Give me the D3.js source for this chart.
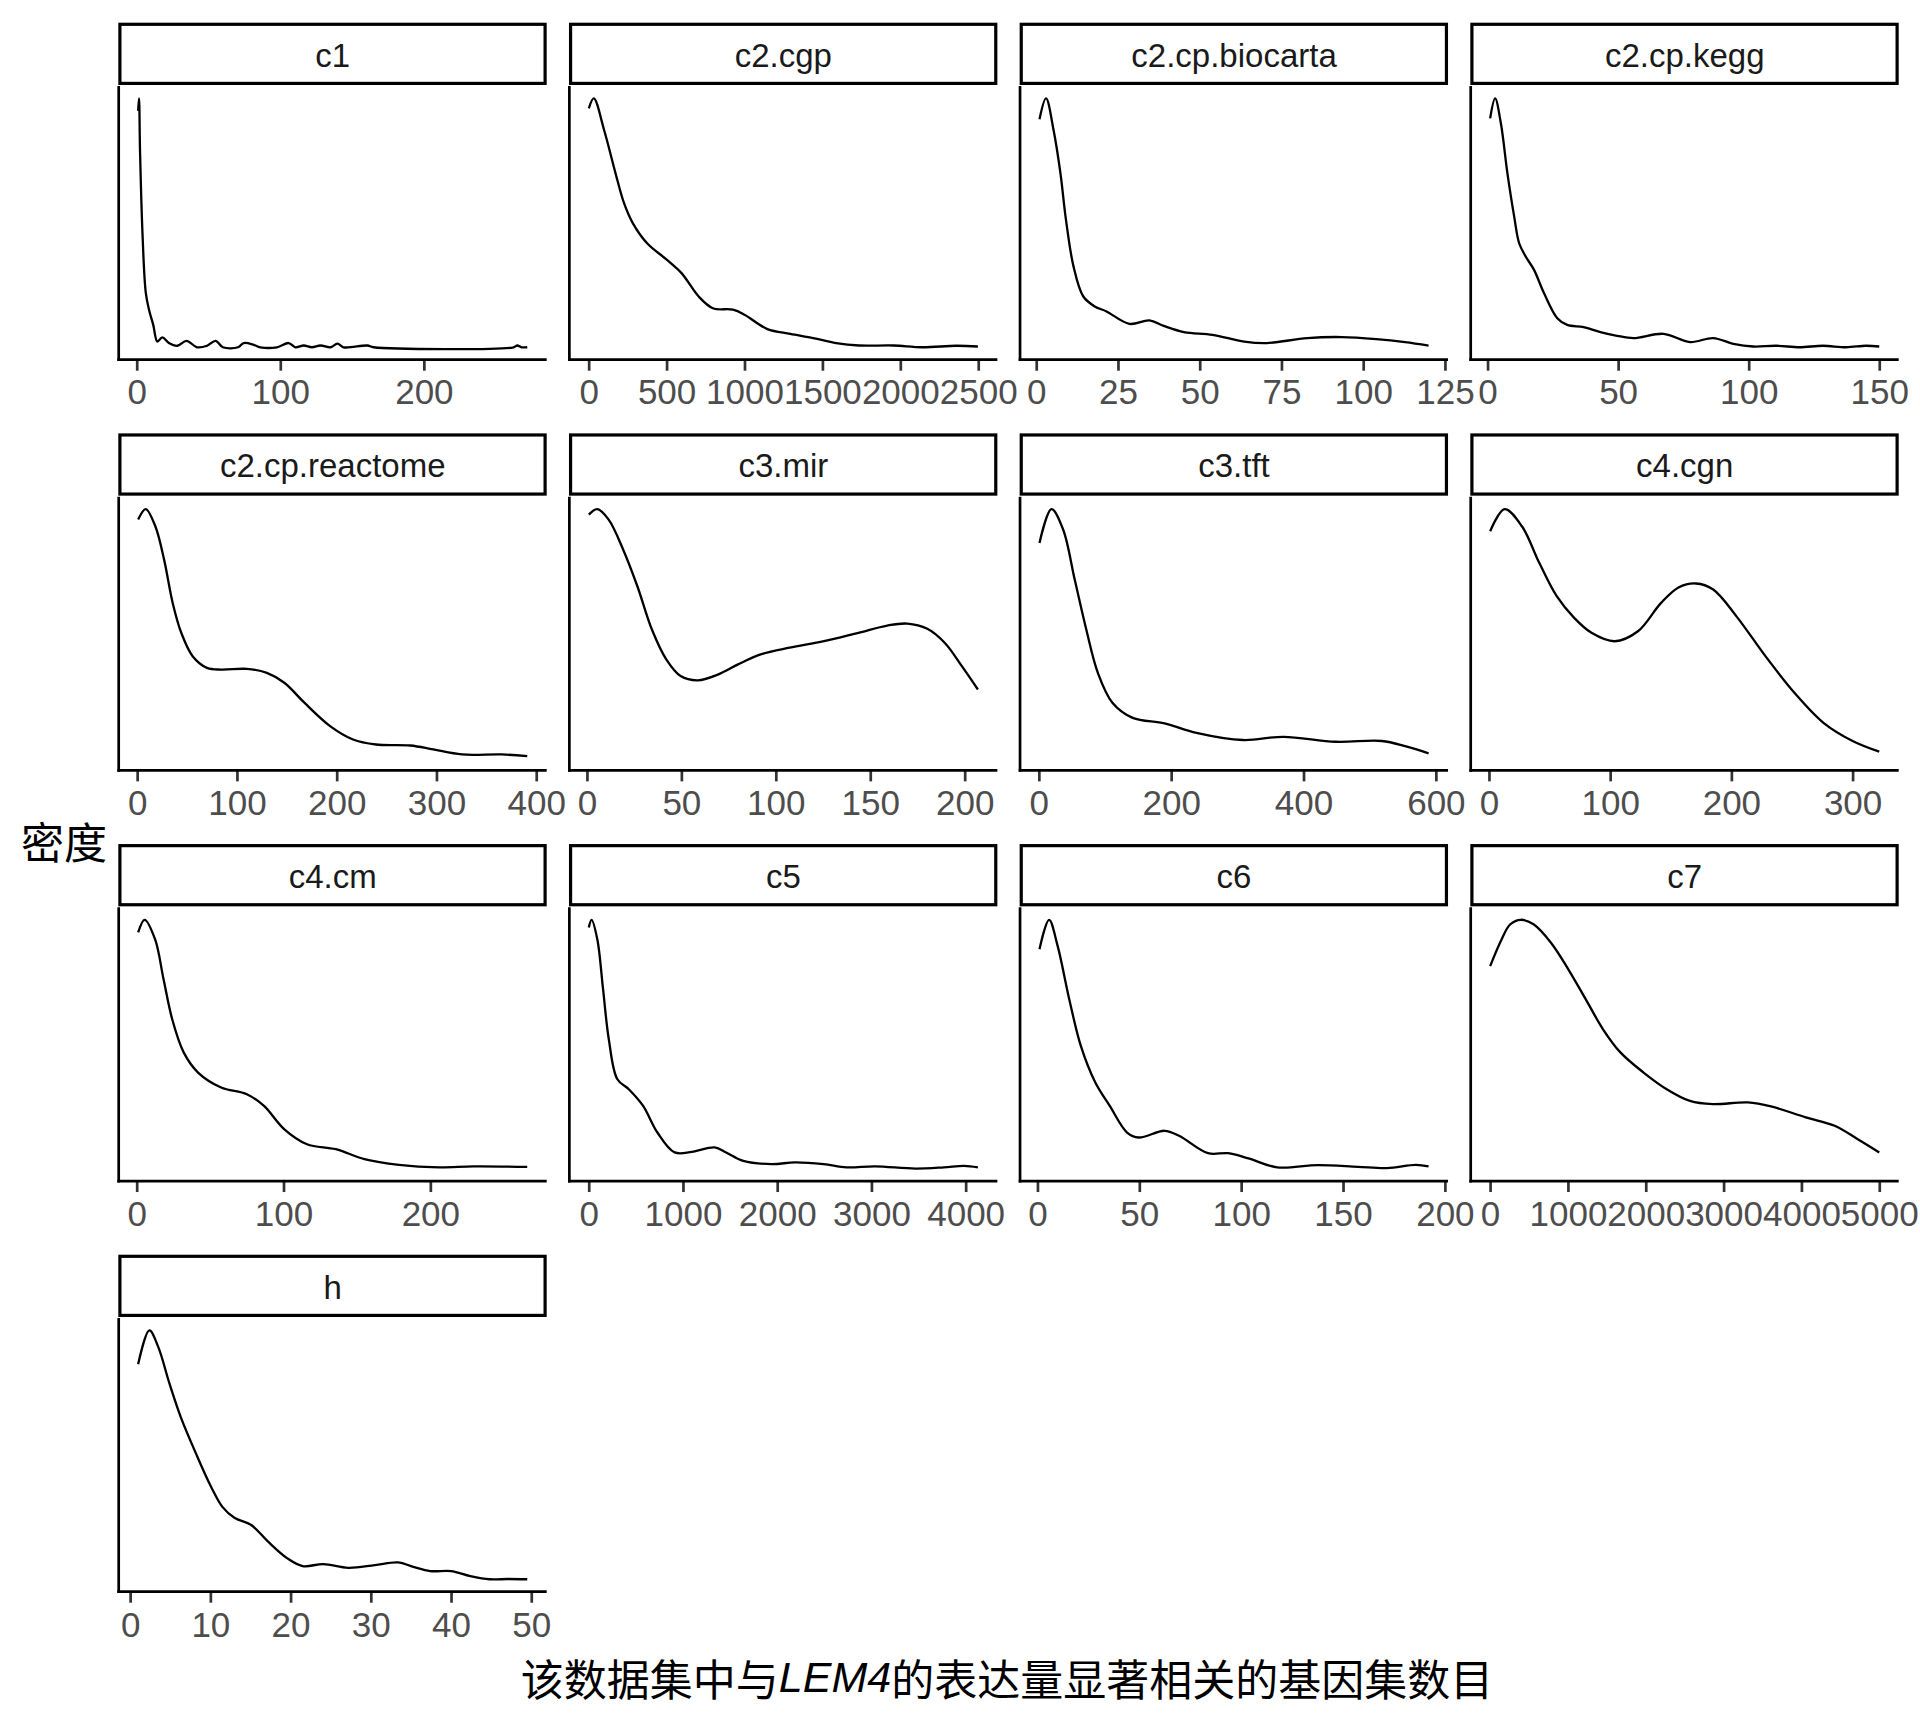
<!DOCTYPE html>
<html><head><meta charset="utf-8">
<script src="https://cdn.jsdelivr.net/npm/d3@7"></script>
<style>body{margin:0;background:#fff}</style>
</head><body>
<script>
// ---- data (x = gene-set count, y = density relative to panel peak) ----
const panelNames = ["c1","c2.cgp","c2.cp.biocarta","c2.cp.kegg","c2.cp.reactome","c3.mir","c3.tft","c4.cgn","c4.cm","c5","c6","c7","h"];

const c1X = [1,1.6,2.3,4,6.3,8.6,11.5,14.4,17.8,22.4,28.2,34.7,42,49,55,60,70.6,74.5,81.5,86,97.7,105.8,110.5,116.3,122,128,135,139.8,144,160.6,165,262.5,265,268,272];
const c1Y = [0.95,1.0,0.79,0.46,0.22,0.15,0.09,0.023,0.04,0.017,0.006,0.026,0,0.006,0.026,0,0,0.017,0.01,0,0,0.017,0,0.007,0,0.007,0,0.015,0,0.007,0,0,0.007,0,0];
const c1Ticks = [0,100,200];

const cgpX = [1,33,99,172,227,283,375,503,596,706,797,926,1000,1147,1294,1441,1588,1735,1956,2140,2359,2498];
const cgpY = [0.96,1.0,0.873,0.70,0.579,0.499,0.418,0.351,0.298,0.204,0.157,0.151,0.131,0.073,0.054,0.037,0.017,0.007,0.007,0,0.006,0.003];
const cgpTicks = [0,500,1000,1500,2000,2500];

const biocartaX = [1,3,5.3,7.4,9.1,11.4,14.4,17.9,21.5,28.5,34.6,39,45.2,53.9,63.6,70.6,82.9,93.5,104,112.8,120];
const biocartaY = [0.916,1.0,0.873,0.70,0.512,0.325,0.204,0.164,0.144,0.094,0.108,0.086,0.061,0.05,0.023,0.017,0.037,0.041,0.033,0.021,0.007];
const biocartaTicks = [0,25,50,75,100,125];

const keggX = [1,2.9,5.1,7.6,10.2,12.1,14.6,17.8,21.6,26.7,30.5,36.8,43.2,49.6,55.9,67.4,77.5,86.4,94.1,101.7,110.6,119.5,128.4,137.3,144.9,150];
const keggY = [0.92,1.0,0.90,0.70,0.525,0.418,0.365,0.311,0.218,0.117,0.09,0.081,0.061,0.046,0.037,0.054,0.021,0.037,0.014,0.003,0.006,0,0.006,0,0.006,0.003];
const keggTicks = [0,50,100,150];

const reactomeX = [1,8.6,18.3,27,35.6,44.2,55.6,70,84.4,110,130,147.5,167.6,193.4,216.4,239.3,273.8,296.8,325.5,365.6,391];
const reactomeY = [0.958,1.0,0.93,0.797,0.623,0.503,0.409,0.362,0.355,0.358,0.342,0.302,0.222,0.128,0.074,0.054,0.05,0.034,0.014,0.014,0.007];
const reactomeTicks = [0,100,200,300,400];

const mirX = [1,5.5,11.5,19.2,26.7,34.4,42,49.6,58.7,69.3,80,92,107.3,125.5,143.7,159,169.6,180.2,189.4,198.5,207];
const mirY = [0.978,1.0,0.958,0.837,0.69,0.516,0.396,0.329,0.312,0.335,0.376,0.416,0.443,0.469,0.503,0.532,0.54,0.519,0.463,0.369,0.275];
const mirTicks = [0,50,100,150,200];

const tftX = [1,19.2,36.7,54.2,71.7,89.2,111.2,141.9,190,238.2,308.4,369.7,448.5,518.5,553.6,589];
const tftY = [0.864,1.0,0.918,0.717,0.516,0.342,0.222,0.161,0.139,0.101,0.072,0.085,0.065,0.068,0.047,0.018];
const tftTicks = [0,200,400,600];

const cgnX = [1,12.9,27.2,41.5,55.9,70.3,84.6,103.8,122.9,142,156.4,170.7,185,204.2,228.1,252,276,300,322];
const cgnY = [0.911,1.0,0.931,0.784,0.65,0.563,0.503,0.469,0.509,0.623,0.685,0.701,0.677,0.569,0.409,0.262,0.141,0.068,0.025];
const cgnTicks = [0,100,200,300];

const cmX = [1,5.4,12.5,18.3,24.2,32,41.8,57.5,75,86.7,100.4,116,135.6,155.1,178.6,205.9,229.3,266];
const cmY = [0.949,1.0,0.922,0.761,0.6,0.467,0.386,0.326,0.299,0.252,0.159,0.098,0.078,0.038,0.015,0.005,0.009,0.007];
const cmTicks = [0,100,200];

const c5X = [1,30,91,152,213,304,425,577,729,911,1094,1337,1458,1640,1944,2188,2492,2735,3039,3465,3769,3982,4130];
const c5Y = [0.969,1.0,0.922,0.721,0.52,0.359,0.319,0.252,0.145,0.065,0.067,0.085,0.065,0.031,0.018,0.025,0.018,0.005,0.009,0,0.005,0.011,0.005];
const c5Ticks = [0,1000,2000,3000,4000];

const c6X = [1,5.7,9.9,15.6,21.3,28.4,35.5,44,49.7,62.4,69.5,83.7,93.6,103.6,117.7,137.6,157.4,171.6,185.8,192];
const c6Y = [0.882,1.0,0.895,0.681,0.493,0.346,0.252,0.145,0.125,0.152,0.132,0.062,0.062,0.041,0.005,0.014,0.007,0.002,0.015,0.009];
const c6Ticks = [0,50,100,150,200];

const c7X = [1,149,260,395,558,782,1005,1228,1451,1674,1972,2269,2567,2864,3312,3609,4055,4427,4724,5000];
const c7Y = [0.814,0.922,0.982,1.0,0.982,0.908,0.801,0.681,0.56,0.467,0.386,0.319,0.272,0.259,0.266,0.25,0.206,0.172,0.118,0.065];
const c7Ticks = [0,1000,2000,3000,4000,5000];

const hX = [1,2.4,3.5,4.9,6.3,8.2,10.1,11.5,13,15.1,17.2,19.6,21.5,24.1,27.2,30.5,33.4,35.3,37.4,40,42.4,44.8,47.1,49.5];
const hY = [0.864,1.0,0.934,0.787,0.653,0.506,0.371,0.291,0.247,0.218,0.151,0.084,0.053,0.061,0.046,0.057,0.068,0.05,0.033,0.033,0.013,0,0.001,0];
const hTicks = [0,10,20,30,40,50];

const yTitle = "密度";
const xTitleParts = ["该数据集中与", "LEM4", "的表达量显著相关的基因集数目"];

// ---- build table ----
const seriesX = [c1X,cgpX,biocartaX,keggX,reactomeX,mirX,tftX,cgnX,cmX,c5X,c6X,c7X,hX];
const seriesY = [c1Y,cgpY,biocartaY,keggY,reactomeY,mirY,tftY,cgnY,cmY,c5Y,c6Y,c7Y,hY];
const seriesTicks = [c1Ticks,cgpTicks,biocartaTicks,keggTicks,reactomeTicks,mirTicks,tftTicks,cgnTicks,cmTicks,c5Ticks,c6Ticks,c7Ticks,hTicks];
const panels = panelNames.map((n,i)=>({name:n, pts:seriesX[i].map((x,j)=>({x, y:seriesY[i][j]})), ticks:seriesTicks[i]}));

// ---- layout ----
const W = 1920, H = 1728;
const colStep = 450.67, rowStep = 410.67;
const panelL0 = 118.7, panelW = 428, panelT0 = 86, panelH = 273.7;
const latin = "'Liberation Sans', Arial, sans-serif";
const cjk = "'Noto Sans CJK SC', sans-serif";

const svg = d3.select("body").append("svg").attr("width",W).attr("height",H)
  .style("background","#fff");
svg.append("rect").attr("width",W).attr("height",H).attr("fill","#fff");

panels.forEach((p,i)=>{
  const c = i % 4, r = Math.floor(i/4);
  const L = panelL0 + c*colStep, R = L + panelW;
  const T = panelT0 + r*rowStep, B = T + panelH;
  const g = svg.append("g");

  const xs = p.pts.map(d=>d.x);
  const xmin = d3.min(xs), xmax = d3.max(xs), rng = xmax - xmin;
  const x = d3.scaleLinear().domain([xmin-0.05*rng, xmax+0.05*rng]).range([L,R]);
  const ymax = d3.max(p.pts,d=>d.y);
  const y = d3.scaleLinear().domain([-0.05*ymax, 1.05*ymax]).range([B,T]);

  // strip
  const sTop = 22.7 + r*rowStep, sBot = 85 + r*rowStep;
  g.append("rect").attr("x",L-0.4+1.6).attr("y",sTop+1.6)
    .attr("width",(R)-(L-0.4)-3.2).attr("height",sBot-sTop-3.2)
    .attr("fill","#fff").attr("stroke","#000").attr("stroke-width",3.2);
  g.append("text").attr("x",(L+R)/2).attr("y",sTop+43.8)
    .attr("text-anchor","middle").attr("font-family",latin).attr("font-size",33)
    .attr("fill","#1A1A1A").text(p.name);

  // density line
  const line = d3.line().x(d=>x(d.x)).y(d=>y(d.y)).curve(d3.curveCatmullRom.alpha(0.5));
  g.append("path").datum(p.pts).attr("d",line).attr("fill","none")
    .attr("stroke","#000").attr("stroke-width",2.3).attr("stroke-linejoin","round");

  // x axis
  const ax = g.append("g").attr("transform",`translate(0,${B})`)
    .call(d3.axisBottom(x).tickValues(p.ticks).tickSize(11).tickPadding(9).tickFormat(d3.format("d")));
  ax.select(".domain").remove();
  ax.selectAll(".tick line").attr("stroke","#333").attr("stroke-width",2.7);
  ax.selectAll(".tick text").attr("fill","#4D4D4D").attr("font-family",latin)
    .attr("font-size",35).attr("dy",null).attr("y",44.8).attr("dominant-baseline","auto");

  // axis lines
  g.append("line").attr("x1",L-1.35).attr("x2",R).attr("y1",B).attr("y2",B)
    .attr("stroke","#000").attr("stroke-width",2.7);
  g.append("line").attr("x1",L).attr("x2",L).attr("y1",T).attr("y2",B+1.35)
    .attr("stroke","#000").attr("stroke-width",2.7);
});

// y title
svg.append("text").attr("x",21).attr("y",840).attr("dominant-baseline","central")
  .attr("font-family",cjk).attr("font-size",43).attr("fill","#000").text(yTitle);

// x title
const xt = svg.append("text").attr("x",1007).attr("y",1677).attr("text-anchor","middle")
  .attr("dominant-baseline","central").attr("font-family",cjk).attr("font-size",43).attr("fill","#000");
xt.append("tspan").text(xTitleParts[0]);
xt.append("tspan").attr("font-family",latin).attr("font-style","italic").text(xTitleParts[1]);
xt.append("tspan").text(xTitleParts[2]);
</script>
</body></html>
